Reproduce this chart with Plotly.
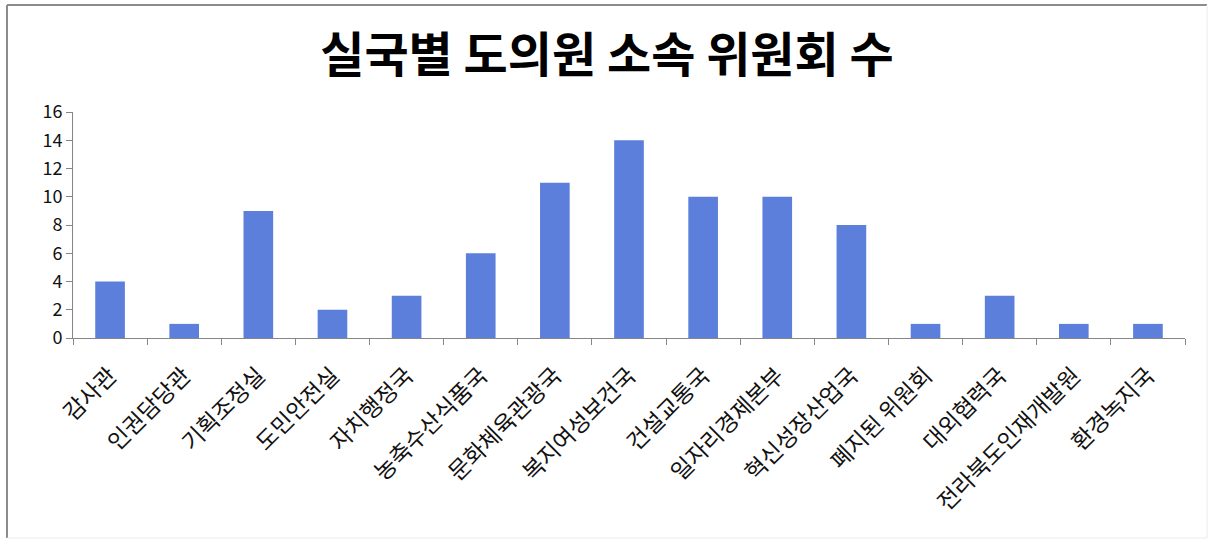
import plotly.graph_objects as go

categories = ["감사관", "인권담당관", "기획조정실", "도민안전실", "자치행정국", "농축수산식품국",
              "문화체육관광국", "복지여성보건국", "건설교통국", "일자리경제본부", "혁신성장산업국",
              "폐지된 위원회", "대외협력국", "전라북도인재개발원", "환경녹지국"]
values = [4, 1, 9, 2, 3, 6, 11, 14, 10, 10, 8, 1, 3, 1, 1]
y_ticks = [0, 2, 4, 6, 8, 10, 12, 14, 16]

font_family = "Noto Sans CJK KR, Noto Sans, sans-serif"

W, H = 1214, 544
L, R, T, B = 73, 29, 112, 206
pw, ph = W - L - R, H - T - B

def px(x):
    return (x - L) / pw

def py(y):
    return (H - B - y) / ph

fig = go.Figure(go.Bar(x=categories, y=values, marker=dict(color="#5B7FDB", line=dict(width=0))))

fig.update_layout(
    width=W, height=H,
    paper_bgcolor="white", plot_bgcolor="white",
    margin=dict(l=L, r=R, t=T, b=B),
    bargap=0.6,
    title=dict(text="<b>실국별 도의원 소속 위원회 수</b>", x=0.5, xanchor="center", y=1 - 55 / H, yanchor="middle",
               font=dict(family=font_family, size=48, color="black")),
    showlegend=False,
    shapes=[
        dict(type="line", xref="paper", yref="paper", x0=px(7), x1=px(7), y0=py(538), y1=py(5),
             line=dict(color="#8C8C8C", width=2)),
        dict(type="line", xref="paper", yref="paper", x0=px(7), x1=px(1207), y0=py(5), y1=py(5),
             line=dict(color="#8C8C8C", width=2)),
        dict(type="line", xref="paper", yref="paper", x0=px(1207), x1=px(1207), y0=py(538), y1=py(5),
             line=dict(color="#EBEBEB", width=1)),
        dict(type="line", xref="paper", yref="paper", x0=px(7), x1=px(1207), y0=py(538), y1=py(538),
             line=dict(color="#EBEBEB", width=1)),
    ],
)
fig.update_xaxes(
    type="category", tickangle=-45, tickson="boundaries", ticks="outside", ticklen=6,
    tickcolor="#868686", showline=True, linecolor="#868686", linewidth=1,
    tickfont=dict(family=font_family, size=23, color="#111111"), showgrid=False,
    ticklabelstandoff=14,
)
fig.update_yaxes(
    range=[0, 16], tickvals=y_ticks, ticks="outside", ticklen=6, tickcolor="#868686",
    showline=True, linecolor="#868686", linewidth=1, showgrid=False, zeroline=False,
    tickfont=dict(family=font_family, size=18, color="#111111"),
)

fig.write_html("out.html", config={"displayModeBar": False},
               post_script="document.body.style.margin='0px';")
